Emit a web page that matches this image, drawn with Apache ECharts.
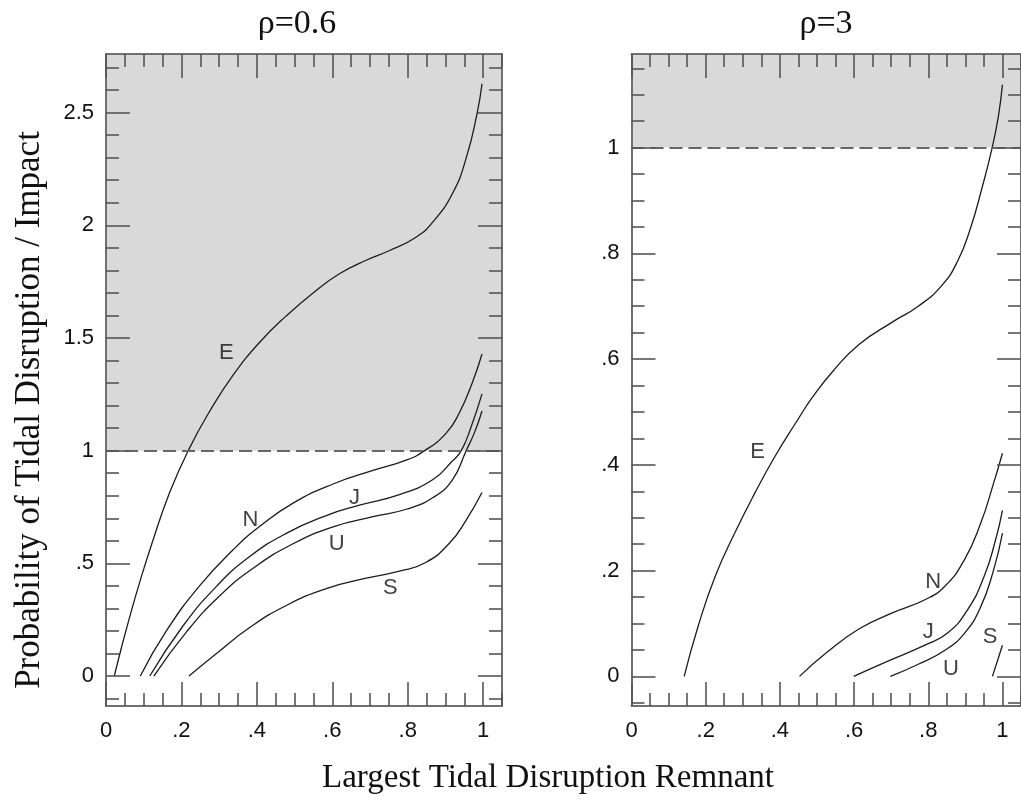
<!DOCTYPE html>
<html>
<head>
<meta charset="utf-8">
<style>
  html, body { margin: 0; padding: 0; background: #fff; }
  #chart { width: 1021px; height: 801px; }
</style>
<script src="https://cdn.jsdelivr.net/npm/echarts@6/dist/echarts.min.js"></script>
</head>
<body>
<div id="chart"></div>
<script>
// ---- tick labels / ranges ----
const xMajor = [0, 0.2, 0.4, 0.6, 0.8, 1];
const yMajorLeft = [0, 0.5, 1, 1.5, 2, 2.5];
const yMajorRight = [0, 0.2, 0.4, 0.6, 0.8, 1];
const xRange = [0, 1.05];
const yRangeLeft = [-0.133, 2.76];
const yRangeRight = [-0.056, 1.177];
const threshold = 1;

// ---- rho = 0.6 curves [remnant, probability] ----
const leftE = [[0.022,0],[0.04,0.12],[0.06,0.245],[0.09,0.42],[0.125,0.605],[0.169,0.815],[0.218,1.0],[0.275,1.175],[0.337,1.335],[0.407,1.48],[0.478,1.598],[0.549,1.7],[0.619,1.785],[0.69,1.845],[0.752,1.888],[0.822,1.947],[0.867,2.015],[0.919,2.142],[0.955,2.298],[0.984,2.497],[0.997,2.628]];
const leftN = [[0.091,0],[0.16,0.2],[0.248,0.4],[0.337,0.56],[0.407,0.663],[0.496,0.767],[0.602,0.852],[0.708,0.912],[0.796,0.958],[0.845,1.0],[0.902,1.078],[0.937,1.168],[0.972,1.305],[0.997,1.429]];
const leftJ = [[0.116,0],[0.204,0.222],[0.293,0.398],[0.381,0.53],[0.478,0.633],[0.584,0.712],[0.672,0.758],[0.778,0.805],[0.867,0.872],[0.919,0.955],[0.942,1.0],[0.968,1.105],[0.997,1.252]];
const leftU = [[0.127,0],[0.213,0.195],[0.301,0.355],[0.39,0.478],[0.496,0.587],[0.602,0.662],[0.708,0.707],[0.796,0.74],[0.867,0.792],[0.919,0.872],[0.955,1.0],[0.977,1.08],[0.997,1.176]];
const leftS = [[0.22,0],[0.293,0.1],[0.381,0.215],[0.478,0.313],[0.584,0.388],[0.69,0.434],[0.778,0.465],[0.849,0.505],[0.911,0.59],[0.955,0.692],[0.997,0.814]];

// ---- rho = 3 curves ----
const rightE = [[0.142,0],[0.181,0.098],[0.226,0.19],[0.279,0.272],[0.332,0.346],[0.385,0.414],[0.446,0.483],[0.486,0.526],[0.544,0.578],[0.614,0.628],[0.703,0.67],[0.773,0.7],[0.835,0.738],[0.879,0.785],[0.914,0.848],[0.945,0.924],[0.972,0.999],[0.989,1.059],[1.0,1.119]];
const rightN = [[0.453,0],[0.526,0.045],[0.614,0.09],[0.703,0.12],[0.791,0.145],[0.844,0.17],[0.897,0.22],[0.941,0.289],[0.976,0.365],[1.0,0.422]];
const rightJ = [[0.599,0],[0.685,0.027],[0.791,0.059],[0.852,0.082],[0.905,0.125],[0.95,0.188],[0.981,0.257],[1.0,0.314]];
const rightU = [[0.698,0],[0.773,0.023],[0.844,0.049],[0.897,0.081],[0.941,0.131],[0.976,0.201],[1.0,0.271]];
const rightS = [[0.973,0],[1.0,0.059]];

// ---- curve name tags [x, y, name] ----
const leftTags = [[0.319,1.432,'E'],[0.383,0.692,'N'],[0.659,0.789,'J'],[0.612,0.586,'U'],[0.754,0.389,'S']];
const rightTags = [[0.34,0.425,'E'],[0.813,0.178,'N'],[0.8,0.084,'J'],[0.861,0.015,'U'],[0.967,0.074,'S']];

const panelTitles = ['ρ=0.6', 'ρ=3'];
const xTitle = 'Largest Tidal Disruption Remnant';
const yTitle = 'Probability of Tidal Disruption / Impact';

const SANS = '"Liberation Sans", Arial, Helvetica, sans-serif';
const SERIF = '"Liberation Serif", "Times New Roman", Times, serif';
const FRAME = '#707070';
const TICK = '#555555';

function steps(lo, hi, step, skip) {
  const out = [];
  const n0 = Math.ceil(lo / step - 1e-9), n1 = Math.floor(hi / step + 1e-9);
  for (let i = n0; i <= n1; i++) {
    const v = Math.round(i * step * 1000) / 1000;
    if (!skip.some(s => Math.abs(s - v) < 1e-6)) out.push(v);
  }
  return out;
}
function fmt(v) {
  if (v === 0) return '0';
  return String(+v.toFixed(2)).replace(/^0\./, '.');
}

// four axes per direction: main (frame, major ticks, labels), minor, opposite main, opposite minor
function axes(kind, grid, range, majors, minorStep) {
  const minors = steps(range[0], range[1], minorStep, majors);
  const sides = kind === 'x' ? ['bottom', 'top'] : ['left', 'right'];
  const out = [];
  sides.forEach((pos, si) => {
    [true, false].forEach(isMajor => {
      out.push({
        type: 'value', gridIndex: grid, position: pos,
        min: range[0], max: range[1], z: 5,
        splitLine: { show: false },
        axisLine: { show: isMajor, onZero: false, lineStyle: { color: FRAME, width: 2 } },
        axisTick: {
          show: true, inside: true, length: isMajor ? 24 : 13,
          customValues: isMajor ? majors : minors,
          lineStyle: { color: TICK, width: 1.6 }
        },
        axisLabel: {
          show: isMajor && si === 0,
          customValues: majors,
          formatter: fmt,
          margin: kind === 'x' ? 14 : 12,
          fontSize: 22, color: '#111', fontFamily: SANS
        }
      });
    });
  });
  return out;
}

function curve(data, grid) {
  return {
    type: 'line', data, xAxisIndex: grid * 4, yAxisIndex: grid * 4,
    showSymbol: false, smooth: 0.5, z: 3, silent: true,
    lineStyle: { color: '#1c1c1c', width: 1.3 }
  };
}
function band(grid, yMax) {
  return {
    type: 'line', data: [], xAxisIndex: grid * 4, yAxisIndex: grid * 4, z: 1, silent: true,
    markArea: { silent: true, itemStyle: { color: '#d9d9d9' }, data: [[{ yAxis: threshold }, { yAxis: yMax }]] },
    markLine: {
      silent: true, symbol: 'none', label: { show: false },
      lineStyle: { color: '#666666', width: 2, type: [13, 6] },
      data: [{ yAxis: threshold }]
    }
  };
}
function tags(data, grid) {
  return {
    type: 'scatter', data, xAxisIndex: grid * 4, yAxisIndex: grid * 4, z: 4,
    symbolSize: 0, silent: true,
    label: { show: true, position: 'inside', formatter: p => p.value[2], fontSize: 22, color: '#111', fontFamily: SANS }
  };
}

const chart = echarts.init(document.getElementById('chart'), null, { renderer: 'canvas' });
chart.setOption({
  backgroundColor: '#fff',
  animation: false,
  grid: [
    { left: 106, top: 54, width: 396, height: 652 },
    { left: 631.5, top: 54, width: 396.4, height: 652 }
  ],
  xAxis: [...axes('x', 0, xRange, xMajor, 0.05), ...axes('x', 1, xRange, xMajor, 0.05)],
  yAxis: [...axes('y', 0, yRangeLeft, yMajorLeft, 0.1), ...axes('y', 1, yRangeRight, yMajorRight, 0.05)],
  series: [
    band(0, yRangeLeft[1]), band(1, yRangeRight[1]),
    curve(leftE, 0), curve(leftN, 0), curve(leftJ, 0), curve(leftU, 0), curve(leftS, 0),
    curve(rightE, 1), curve(rightN, 1), curve(rightJ, 1), curve(rightU, 1), curve(rightS, 1),
    tags(leftTags, 0), tags(rightTags, 1)
  ],
  graphic: [
    { type: 'text', x: 297, y: 24, style: { text: panelTitles[0], font: '34px ' + SERIF, fill: '#111', textAlign: 'center', textVerticalAlign: 'middle' } },
    { type: 'text', x: 826, y: 24, style: { text: panelTitles[1], font: '34px ' + SERIF, fill: '#111', textAlign: 'center', textVerticalAlign: 'middle' } },
    { type: 'text', x: 548, y: 778, style: { text: xTitle, font: '33px ' + SERIF, fill: '#111', textAlign: 'center', textVerticalAlign: 'middle' } },
    { type: 'text', x: 30, y: 410, rotation: Math.PI / 2, style: { text: yTitle, font: '35px ' + SERIF, fill: '#111', textAlign: 'center', textVerticalAlign: 'middle' } }
  ]
});
</script>
</body>
</html>
